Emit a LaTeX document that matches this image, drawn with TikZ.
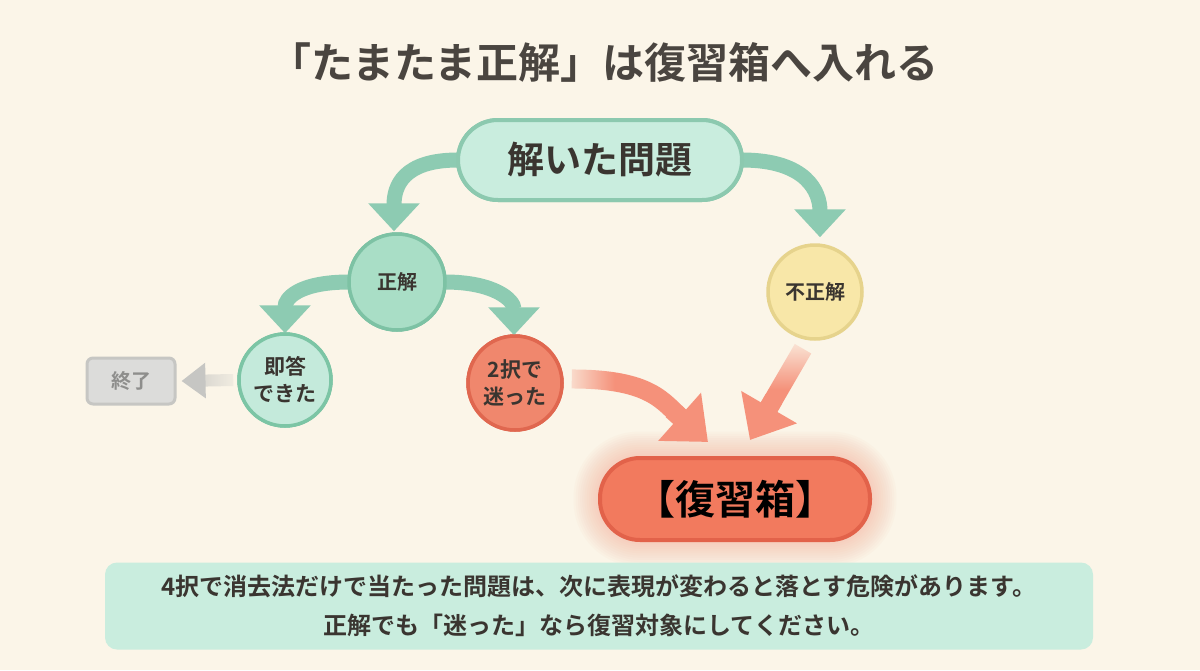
\documentclass[tikz,border=0pt]{standalone}
\usepackage{fontspec}
\setmainfont{Noto Sans CJK JP}[BoldFont={Noto Sans CJK JP Bold}]
\usetikzlibrary{arrows.meta,fadings,calc}
\definecolor{bg}{HTML}{FBF5E8}
\definecolor{titlec}{HTML}{4A4540}
\definecolor{txt}{HTML}{3A3530}
\definecolor{topfill}{HTML}{C9EDDE}
\definecolor{topdraw}{HTML}{8CC9AF}
\definecolor{tealarr}{HTML}{8DCBB2}
\definecolor{okfill}{HTML}{A9DEC6}
\definecolor{okdraw}{HTML}{7DC2A4}
\definecolor{quickfill}{HTML}{C4EADB}
\definecolor{quickdraw}{HTML}{7CC5A5}
\definecolor{unsurefill}{HTML}{F0876D}
\definecolor{unsuredraw}{HTML}{E0674F}
\definecolor{wrongfill}{HTML}{F8E7A8}
\definecolor{wrongdraw}{HTML}{E6D38C}
\definecolor{endfill}{HTML}{DCDCDA}
\definecolor{enddraw}{HTML}{C6C6C3}
\definecolor{endtxt}{HTML}{8E8E8C}
\definecolor{redarr}{HTML}{F5917A}
\definecolor{boxfill}{HTML}{F27A5E}
\definecolor{boxdraw}{HTML}{E2624A}
\definecolor{glow}{HTML}{F6A088}
\definecolor{notefill}{HTML}{C9EDDE}
\pgfdeclarehorizontalshading{myfadeLshade}{100bp}{color(0bp)=(pgftransparent!90); color(25bp)=(pgftransparent!90); color(42bp)=(pgftransparent!0); color(100bp)=(pgftransparent!0)}
\pgfdeclarefading{fadefromleft}{\pgfuseshading{myfadeLshade}}
\pgfdeclareverticalshading{myfadeTshade}{100bp}{color(0bp)=(pgftransparent!0); color(52bp)=(pgftransparent!0); color(75bp)=(pgftransparent!90); color(100bp)=(pgftransparent!90)}
\pgfdeclarefading{fadefromtop}{\pgfuseshading{myfadeTshade}}
\tikzfading[name=fadefromright, left color=transparent!0, right color=transparent!90]
\begin{document}
\begin{tikzpicture}[x=1pt,y=-1pt,
  every node/.style={text=txt, font=\bfseries, align=center},
  circ/.style={circle, line width=3.5pt, minimum size=#1, inner sep=0pt},
  pill/.style={rectangle, rounded corners=40pt, line width=4pt},
  tealarrow/.style={draw=tealarr, line width=15pt, -{Triangle[width=50pt,length=28pt]}},
  redshaft/.style={draw=redarr, line width=19pt, shorten >=34pt},
  redtip/.style={draw=redarr, line width=19pt, -{Triangle[width=62pt,length=38pt]}},
  grayshaft/.style={draw=enddraw, line width=12pt, shorten >=20pt},
  graytip/.style={draw=enddraw, line width=12pt, -{Triangle[width=34pt,length=24pt]}}
]
\useasboundingbox (0,0) rectangle (1200,670);
\fill[bg] (0,0) rectangle (1200,670);

% title
\node[text=titlec, font=\fontsize{42}{46}\selectfont\bfseries] (title) at (604,62) {「たまたま正解」は復習箱へ入れる};

% node positions
\coordinate (topc) at (600,160);
\coordinate (okc) at (397,282);
\coordinate (wrongc) at (815,292);
\coordinate (quickc) at (285,380);
\coordinate (unsurec) at (515,383);
\coordinate (endc) at (131,381);
\coordinate (boxc) at (735,499);

% glow behind review box
\foreach \i in {1,...,12}{
  \fill[glow, opacity=0.045, rounded corners={41pt+\i*2pt}]
    ([xshift={-135pt-\i*2.2pt}, yshift={41pt+\i*2.2pt}]boxc) rectangle ([xshift={135pt+\i*2.2pt}, yshift={-41pt-\i*2.2pt}]boxc);
}

% nodes (first pass, for names)
\node[pill, fill=topfill, draw=topdraw, minimum width=284pt, minimum height=80pt, font=\fontsize{37}{40}\selectfont\bfseries] (top) at (topc) {解いた問題};
\node[circ=96pt, fill=okfill, draw=okdraw, font=\fontsize{20}{24}\selectfont\bfseries] (ok) at (okc) {正解};
\node[circ=94pt, fill=wrongfill, draw=wrongdraw, font=\fontsize{20}{24}\selectfont\bfseries] (wrong) at (wrongc) {不正解};
\node[circ=92pt, fill=quickfill, draw=quickdraw, font=\fontsize{21}{27}\selectfont\bfseries] (quick) at (quickc) {即答\\できた};
\node[circ=94pt, fill=unsurefill, draw=unsuredraw, font=\fontsize{21}{27}\selectfont\bfseries] (unsure) at (unsurec) {2択で\\迷った};
\node[rectangle, rounded corners=6pt, fill=endfill, draw=enddraw, line width=3pt, minimum width=88pt, minimum height=46pt, text=endtxt, font=\fontsize{20}{24}\selectfont\bfseries] (end) at (endc) {終了};
\node[pill, fill=boxfill, draw=boxdraw, minimum width=270pt, minimum height=82pt, text=black, font=\fontsize{40}{44}\selectfont\bfseries] (box) at (boxc) {【復習箱】};

% connectors
\draw[tealarrow] ([xshift=2pt]top.west) .. controls +(-55,0) and +(0,-45) .. ([xshift=-3pt,yshift=1pt]ok.north);
\draw[tealarrow] ([xshift=-2pt]top.east) .. controls +(65,0) and +(0,-45) .. ([xshift=5pt,yshift=6pt]wrong.north);
\draw[tealarrow] ([xshift=2pt]ok.west) .. controls +(-50,0) and +(0,-35) .. ([yshift=-1pt]quick.north);
\draw[tealarrow] ([xshift=-2pt]ok.east) .. controls +(50,0) and +(0,-35) .. ([xshift=-1pt,yshift=-1pt]unsure.north);

% gray arrow to end
\coordinate (gs) at ([xshift=-4pt]quick.west);
\coordinate (ge) at ([xshift=5pt]end.east);
\draw[grayshaft, path fading=fadefromright, fit fading=true] (gs) -- (ge);
\draw[graytip] ($(gs)!0.55!(ge)$) -- (ge);

% red arrow from unsure
\coordinate (r1s) at ([xshift=8pt,yshift=4pt]unsure.east);
\coordinate (r1e) at ([xshift=-27pt,yshift=14pt]box.north);
\draw[redshaft, path fading=fadefromleft, fit fading=true] (r1s) .. controls +(80,0) and +(-45,-40) .. (r1e);
\draw[redtip] ($(r1e)+(-36,-32)$) -- (r1e);

% red arrow from wrong
\coordinate (r2s) at ([xshift=-12pt,yshift=-8pt]wrong.south);
\coordinate (r2e) at ([xshift=15pt,yshift=16pt]box.north);
\draw[redshaft, path fading=fadefromtop, fit fading=true] (r2s) -- (r2e);
\draw[redtip] ($(r2s)!0.55!(r2e)$) -- (r2e);

% redraw nodes on top of connectors
\node[pill, fill=topfill, draw=topdraw, minimum width=284pt, minimum height=80pt, font=\fontsize{37}{40}\selectfont\bfseries] at (topc) {解いた問題};
\node[circ=96pt, fill=okfill, draw=okdraw, font=\fontsize{20}{24}\selectfont\bfseries] at (okc) {正解};
\node[circ=92pt, fill=quickfill, draw=quickdraw, font=\fontsize{21}{27}\selectfont\bfseries] at (quickc) {即答\\できた};
\node[circ=94pt, fill=unsurefill, draw=unsuredraw, font=\fontsize{21}{27}\selectfont\bfseries] at (unsurec) {2択で\\迷った};

% note box
\node[rectangle, rounded corners=12pt, fill=notefill, minimum width=988pt, minimum height=87pt, font=\fontsize{24}{39}\selectfont\bfseries] (note) at (599,606)
  {4択で消去法だけで当たった問題は、次に表現が変わると落とす危険があります。\\正解でも「迷った」なら復習対象にしてください。};
\end{tikzpicture}
\end{document}
